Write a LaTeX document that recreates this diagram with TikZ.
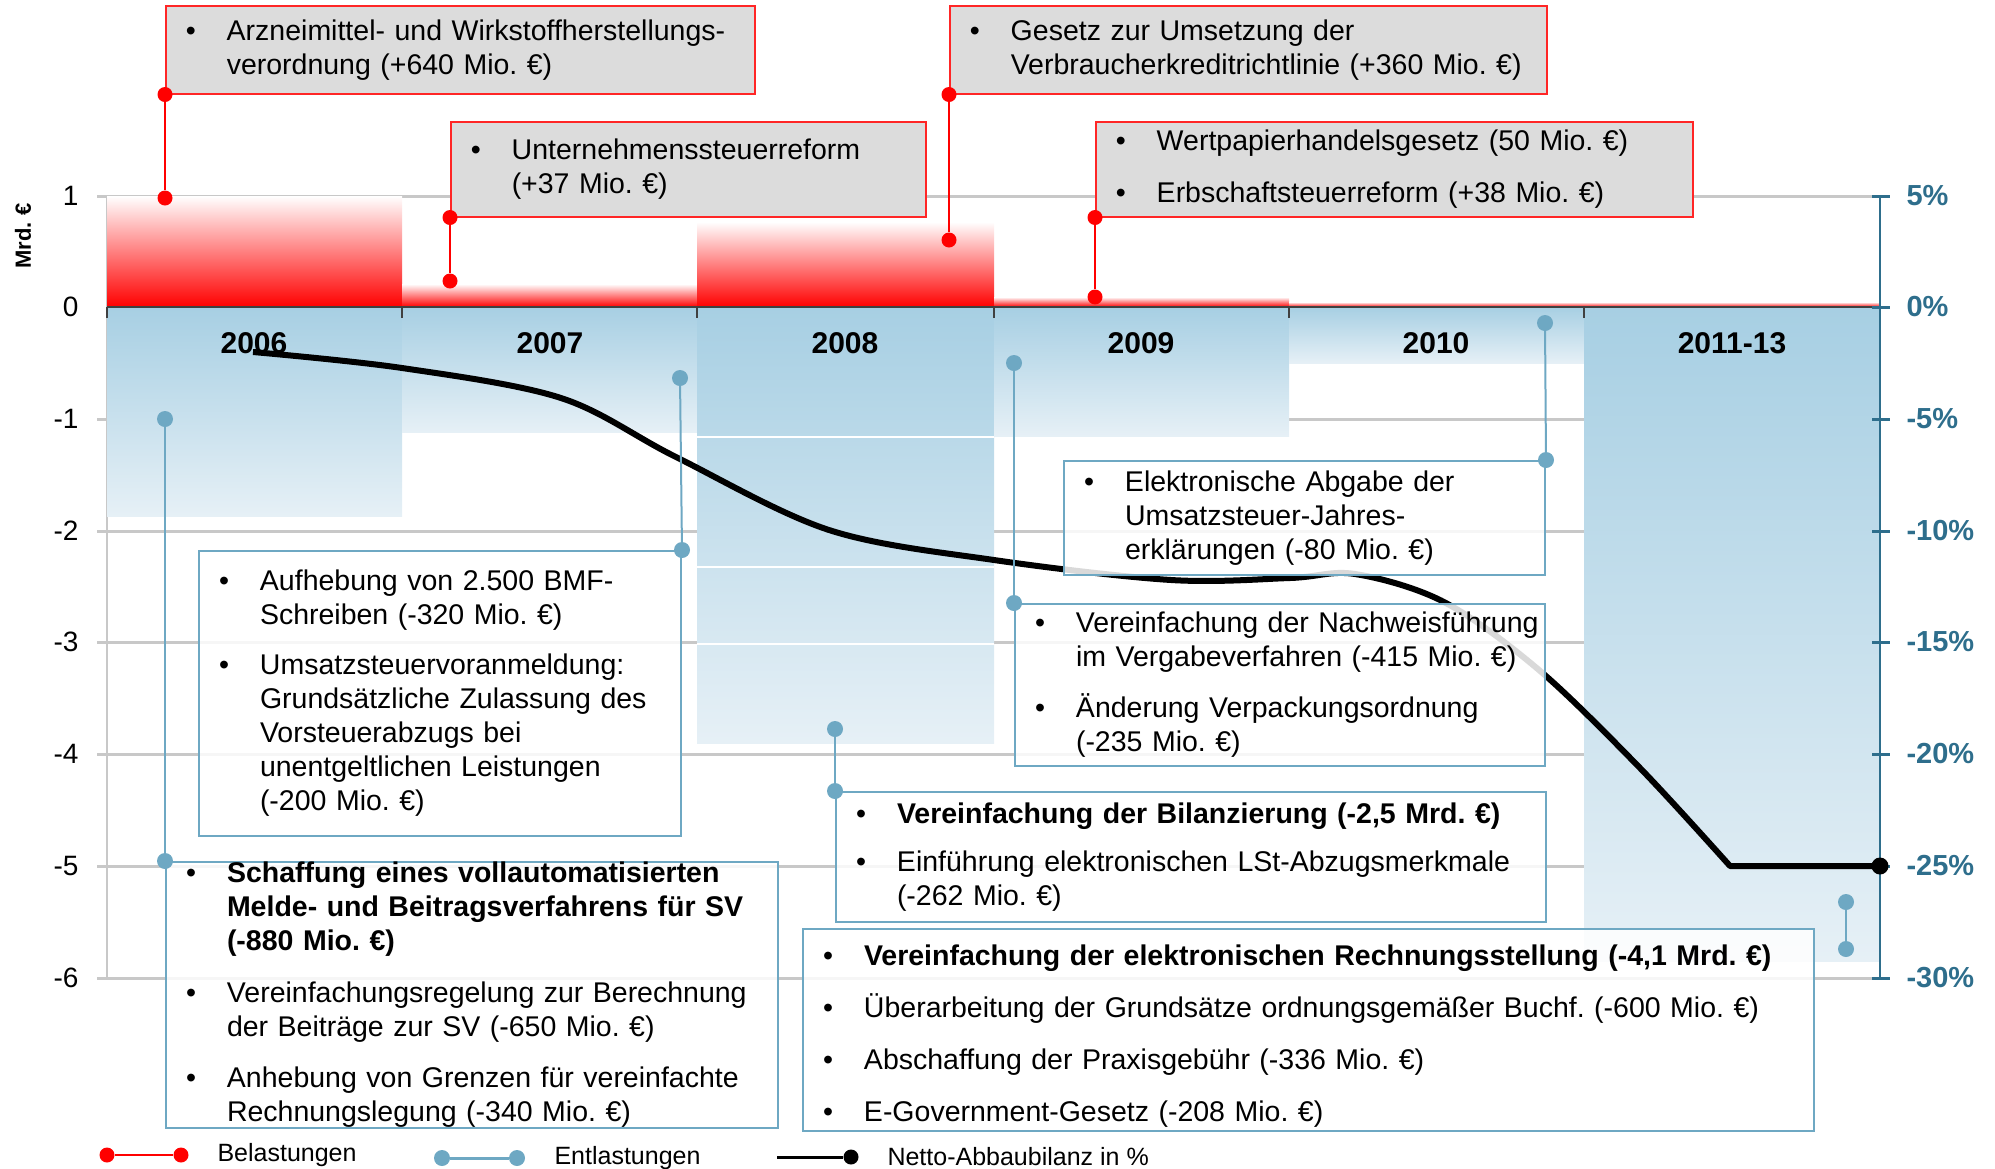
\documentclass[tikz,border=0pt]{standalone}
\usepackage{fontspec}
\setmainfont{Liberation Sans}
\usetikzlibrary{positioning}
\frenchspacing

\definecolor{boxgray}{HTML}{DCDCDC}
\definecolor{entblue}{HTML}{6EA8C3}
\definecolor{barblue}{HTML}{A7CFE3}
\definecolor{barlight}{HTML}{E6F0F6}
\definecolor{axisteal}{HTML}{2E6E8C}
\definecolor{gridgray}{HTML}{C8C8C8}

% bullet and hanging indent inside the boxes
\newcommand{\bpt}{\makebox[61pt][l]{\hspace{20pt}\textbullet}}
\newcommand{\bind}{\hspace*{61pt}}

\begin{document}
\begin{tikzpicture}[
  x=1pt, y=-1pt,
  font=\fontsize{28.5}{34}\selectfont,
  redbox/.style={draw=red!85, line width=1.5pt, fill=boxgray, anchor=north west, inner sep=0pt, align=left},
  bluebox/.style={draw=entblue, line width=2pt, fill=white, fill opacity=0.85, text opacity=1, anchor=north west, inner sep=0pt, align=left},
  reddot/.style={circle, fill=red, inner sep=0pt, minimum size=15pt},
  bluedot/.style={circle, fill=entblue, inner sep=0pt, minimum size=16pt},
  blackdot/.style={circle, fill=black, inner sep=0pt, minimum size=17pt},
  redline/.style={draw=red, line width=2.5pt},
  blueline/.style={draw=entblue, line width=2pt},
  gridline/.style={draw=gridgray, line width=3pt},
  netline/.style={draw=black, line width=6pt, line join=round},
  yearlbl/.style={font=\fontsize{30}{36}\selectfont\bfseries},
  pctlbl/.style={anchor=west, text=axisteal, font=\fontsize{29}{34}\selectfont\bfseries},
  ylbl/.style={anchor=east, font=\fontsize{28}{32}\selectfont},
  leglbl/.style={anchor=west, font=\fontsize{25}{30}\selectfont}
]
\useasboundingbox (0,0) rectangle (1995,1168);

% grid and left axis
\foreach \v in {196,419,531,642,754,866,978}
  \draw[gridline] (97,\v) -- (1880,\v);
\draw[gridgray, line width=2pt] (107,196) -- (107,978);

% bars: Belastungen above, Entlastungen below
\foreach \xa/\xb/\yt in {107/402/196, 402/697/284, 697/994/222, 994/1289/297, 1289/1584/302, 1584/1880/302}
  \shade[top color=white, middle color=red!22, bottom color=red] (\xa,\yt) rectangle (\xb,307);
\foreach \xa/\xb/\yb in {107/402/516, 402/697/432, 697/994/743, 994/1289/436, 1289/1584/363, 1584/1880/961}
  \shade[top color=barblue, bottom color=barlight] (\xa,307) rectangle (\xb,\yb);
\foreach \v in {437,567,644}
  \draw[white, line width=1.5pt] (697,\v) -- (994,\v);

% zero line and column ticks
\draw[black!75, line width=2pt] (107,307) -- (1880,307);
\foreach \x in {107,402,697,994,1289,1584}
  \draw[black!75, line width=1.5pt] (\x,307) -- (\x,318);

\foreach \x/\yr [count=\i] in {254/2006, 550/2007, 845/2008, 1141/2009, 1436/2010, 1732/2011-13}
  \node[yearlbl] (yr\i) at (\x,343) {\yr};

% left scale
\foreach \v/\t [count=\i] in {196/1, 307/0, 419/-1, 531/-2, 642/-3, 754/-4, 866/-5, 978/-6}
  \node[ylbl] (yl\i) at (82,\v) {\t};
\node[rotate=90, font=\fontsize{22}{26}\selectfont\bfseries] (unit) at (23,236) {Mrd. €};

% right scale
\draw[axisteal, line width=2pt] (1880,196) -- (1880,978);
\foreach \v/\p [count=\i] in {196/5, 307/0, 419/-5, 531/-10, 642/-15, 754/-20, 866/-25, 978/-30} {
  \draw[axisteal, line width=3pt] (1872,\v) -- (1890,\v);
  \node[pctlbl] (pc\i) at (1903,\v) {\p\%};
}

% Netto-Abbaubilanz
\node[blackdot] (netend) at (1880,866) {};
\draw[netline] plot[smooth, tension=0.55] coordinates {(253,352) (402,368) (561,398) (676,457) (829,530) (994,560) (1171,580) (1290,578) (1355,574) (1444,602) (1539,670) (1640,768) (1730,866)} -- (netend.center);

% Belastungen
\node[redbox, minimum width=589pt, minimum height=88pt, text width=589pt] (arz) at (165,5)
  {\bpt Arzneimittel- und Wirkstoffherstellungs-\\\bind verordnung (+640 Mio.~€)};
\node[redbox, minimum width=475pt, minimum height=95pt, text width=475pt] (unt) at (450,121)
  {\bpt Unternehmenssteuerreform\\\bind (+37 Mio.~€)};
\node[redbox, minimum width=597pt, minimum height=88pt, text width=597pt] (ges) at (949,5)
  {\bpt Gesetz zur Umsetzung der\\\bind Verbraucherkreditrichtlinie (+360 Mio.~€)};
\node[redbox, minimum width=597pt, minimum height=95pt, text width=597pt] (wert) at (1095,121)
  {\bpt Wertpapierhandelsgesetz (50 Mio.~€)\\[18pt]\bpt Erbschaftsteuerreform (+38 Mio.~€)};

% Entlastungen
\node[bluebox, minimum width=482pt, minimum height=285pt, text width=482pt] (aufh) at (198,550)
  {\bpt Aufhebung von 2.500 BMF-\\\bind Schreiben (-320 Mio.~€)\\[16pt]
   \bpt Umsatzsteuervoranmeldung:\\\bind Grundsätzliche Zulassung des\\\bind Vorsteuerabzugs bei\\\bind unentgeltlichen Leistungen\\\bind (-200 Mio.~€)};
\node[bluebox, minimum width=481pt, minimum height=114pt, text width=481pt] (elek) at (1063,460)
  {\bpt Elektronische Abgabe der\\\bind Umsatzsteuer-Jahres-\\\bind erklärungen (-80 Mio.~€)};
\node[bluebox, minimum width=530pt, minimum height=162pt, text width=530pt] (nach) at (1014,603)
  {\bpt Vereinfachung der Nachweisführung\\\bind im Vergabeverfahren (-415 Mio.~€)\\[17pt]
   \bpt Änderung Verpackungsordnung\\\bind (-235 Mio.~€)};
\node[bluebox, minimum width=710pt, minimum height=130pt, text width=710pt] (bil) at (835,791)
  {\bpt\textbf{Vereinfachung der Bilanzierung (-2,5 Mrd.~€)}\\[14pt]
   \bpt Einführung elektronischen LSt-Abzugsmerkmale\\\bind (-262 Mio.~€)};
\node[bluebox, minimum width=612pt, minimum height=266pt, text width=612pt] (schaf) at (165,861)
  {\bpt\textbf{Schaffung eines vollautomatisierten}\\\bind\textbf{Melde- und Beitragsverfahrens für SV}\\\bind\textbf{(-880 Mio.~€)}\\[18pt]
   \bpt Vereinfachungsregelung zur Berechnung\\\bind der Beiträge zur SV (-650 Mio.~€)\\[17pt]
   \bpt Anhebung von Grenzen für vereinfachte\\\bind Rechnungslegung (-340 Mio.~€)};
\node[bluebox, minimum width=1011pt, minimum height=202pt, text width=1011pt] (rech) at (802,928)
  {\rule{0pt}{33pt}\bpt\textbf{Vereinfachung der elektronischen Rechnungsstellung (-4,1 Mrd.~€)}\\[18pt]
   \bpt Überarbeitung der Grundsätze ordnungsgemäßer Buchf. (-600 Mio.~€)\\[18pt]
   \bpt Abschaffung der Praxisgebühr (-336 Mio.~€)\\[18pt]
   \bpt E-Government-Gesetz (-208 Mio.~€)};

% red connectors
\node[reddot] (r1a) at (arz.south west) {};
\node[reddot] (r1b) at (165,198) {};
\node[reddot] (r2a) at (unt.south west) {};
\node[reddot] (r2b) at (450,281) {};
\node[reddot] (r3a) at (ges.south west) {};
\node[reddot] (r3b) at (949,240) {};
\node[reddot] (r4a) at (wert.south west) {};
\node[reddot] (r4b) at (1095,297) {};
\draw[redline] (r1a) -- (r1b);
\draw[redline] (r2a) -- (r2b);
\draw[redline] (r3a) -- (r3b);
\draw[redline] (r4a) -- (r4b);

% blue connectors
\node[bluedot] (b1a) at (165,419) {};
\node[bluedot] (b1b) at (schaf.north west) {};
\node[bluedot] (b2a) at (680,378) {};
\node[bluedot] (b2b) at (aufh.north east) {};
\node[bluedot] (b3a) at (835,729) {};
\node[bluedot] (b3b) at (bil.north west) {};
\node[bluedot] (b4a) at (1014,363) {};
\node[bluedot] (b4b) at (nach.north west) {};
\node[bluedot] (b5a) at (1545,323) {};
\node[bluedot] (b5b) at (elek.north east) {};
\node[bluedot] (b6a) at (1846,902) {};
\node[bluedot] (b6b) at (1846,949) {};
\draw[blueline] (b1a) -- (b1b);
\draw[blueline] (b2a) -- (b2b);
\draw[blueline] (b3a) -- (b3b);
\draw[blueline] (b4a) -- (b4b);
\draw[blueline] (b5a) -- (b5b);
\draw[blueline] (b6a) -- (b6b);

% legend
\node[reddot] (lr1) at (107,1155) {};
\node[reddot] (lr2) at (181,1155) {};
\draw[redline] (lr1) -- (lr2);
\node[leglbl] (lrt) at (214,1155) {Belastungen};
\node[bluedot] (lb1) at (442,1158) {};
\node[bluedot] (lb2) at (517,1158) {};
\draw[blueline, line width=3pt] (lb1) -- (lb2);
\node[leglbl] (lbt) at (551,1158) {Entlastungen};
\coordinate (ln1) at (777,1157);
\node[blackdot, minimum size=15pt] (ln2) at (851,1157) {};
\draw[black, line width=3pt] (ln1) -- (ln2);
\node[leglbl] (lnt) at (884,1157) {Netto-Abbaubilanz in \%};
\end{tikzpicture}
\end{document}
